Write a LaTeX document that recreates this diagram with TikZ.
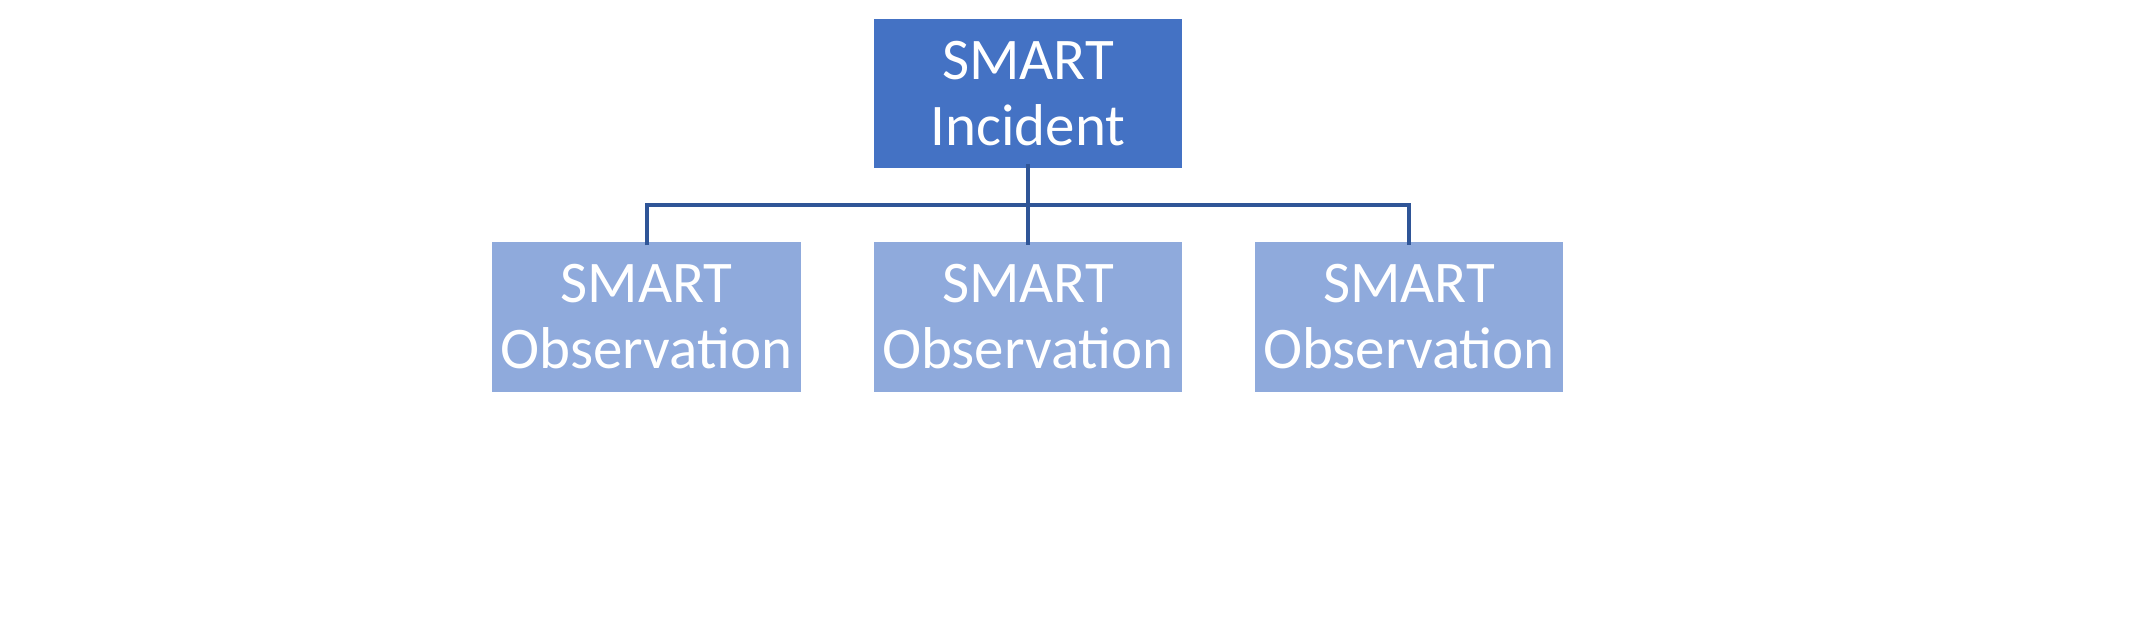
\documentclass[tikz,border=0pt]{standalone}
\usepackage{fontspec}
\setmainfont{Carlito}
\definecolor{topc}{HTML}{4472C4}
\definecolor{subc}{HTML}{8FAADC}
\definecolor{linec}{HTML}{2F5597}
\begin{document}
\begin{tikzpicture}[x=1pt,y=-1pt,
 box/.style={draw=white,line width=1.5pt,minimum width=310pt,minimum height=151pt,inner sep=0pt,align=center,text=white,font=\fontsize{59}{66}\selectfont},
 conn/.style={draw=linec,line width=4pt}]
\useasboundingbox (0,0) rectangle (2131,623);
\node[box,fill=topc] (top) at (1028,93.5) {SMART\\Incident};
\node[box,fill=subc,minimum height=152pt] (c1) at (646.5,317) {SMART\\Observation};
\node[box,fill=subc,minimum height=152pt] (c2) at (1028,317) {SMART\\Observation};
\node[box,fill=subc,minimum height=152pt] (c3) at (1409,317) {SMART\\Observation};
\coordinate (bus) at (1028,205);
\draw[conn] ([yshift=6pt]top.south) -- (bus);
\draw[conn] ([yshift=-5pt]c1.north) -- (c1.north |- bus) -- (c3.north |- bus) -- ([yshift=-5pt]c3.north);
\draw[conn] (bus) -- ([yshift=-5pt]c2.north);
\end{tikzpicture}
\end{document}
